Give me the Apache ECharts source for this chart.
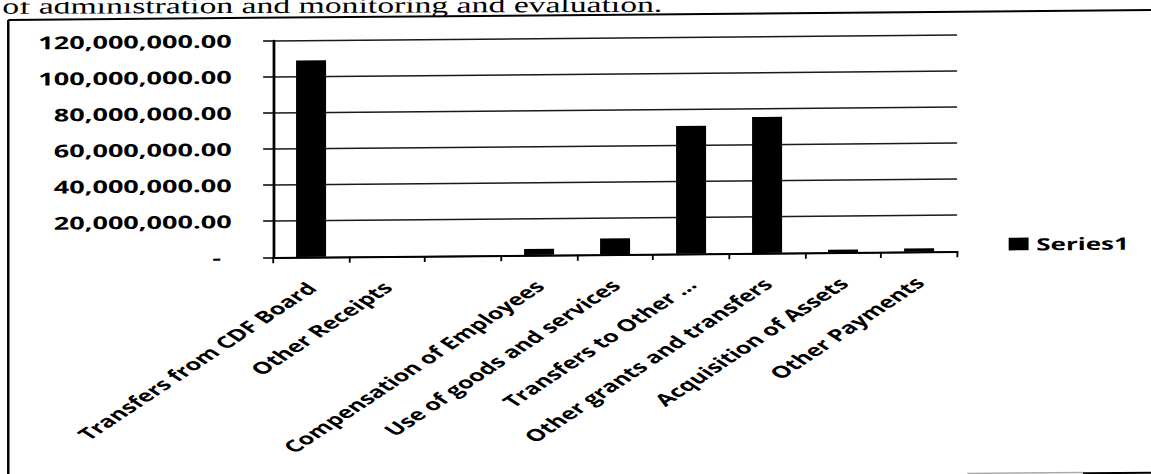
<!DOCTYPE html>
<html>
<head>
<meta charset="utf-8">
<title>CDF receipts and payments</title>
<script src="https://cdn.jsdelivr.net/npm/echarts@6/dist/echarts.min.js"></script>
<style>
  html, body { margin: 0; padding: 0; background: #fff; overflow: hidden; width: 1151px; height: 474px; }
  /* the page is a wide scan: stretched horizontally and slightly sheared */
  #chart {
    position: absolute; left: 0; top: 0;
    width: 752px; height: 490px;
    transform-origin: 0 0;
    transform: translate(273px, 257px) skewY(-0.5deg) translate(-273px, -257px) scaleX(1.5306);
  }
</style>
</head>
<body>
<div id="chart"></div>
<script>
// Receipt and payment lines (one category has no name in the source table)
const categories = [
  'Transfers from CDF Board',
  'Other Receipts',
  '',
  'Compensation of Employees',
  'Use of goods and services',
  'Transfers to Other ...',
  'Other grants and transfers',
  'Acquisition of Assets',
  'Other Payments'
];

// Amounts for Series1
const values = [108900000, 0, 0, 3350000, 8800000, 70800000, 75400000, 1500000, 1800000];

const seriesName = 'Series1';

// Value axis ticks, accounting style
const yStep = 20000000;
const yTickLabels = [
  '-',
  '20,000,000.00',
  '40,000,000.00',
  '60,000,000.00',
  '80,000,000.00',
  '100,000,000.00',
  '120,000,000.00'
];

const captionText = 'of administration and monitoring and evaluation.';

const FONT = '"Open Sans", "DejaVu Sans", sans-serif';

const chart = echarts.init(document.getElementById('chart'), null, { renderer: 'svg' });

chart.setOption({
  animation: false,
  backgroundColor: '#fff',
  grid: {
    left: 178.4,
    right: 126.7,
    top: 40.7,
    bottom: 232.7,
    containLabel: false
  },
  legend: {
    data: [seriesName],
    left: 654,
    top: 237,
    icon: 'rect',
    itemWidth: 13,
    itemHeight: 12.6,
    itemGap: 5,
    textStyle: { fontFamily: FONT, fontWeight: 'bold', fontSize: 17, color: '#000' }
  },
  xAxis: {
    type: 'category',
    data: categories,
    axisLine: { show: true, lineStyle: { color: '#000', width: 2 } },
    axisTick: { show: true, length: 6, lineStyle: { color: '#000', width: 1.2 } },
    axisLabel: {
      interval: 0,
      rotate: 45,
      margin: 28,
      fontFamily: FONT,
      fontWeight: 'bold',
      fontSize: 16.5,
      color: '#000'
    },
    splitLine: { show: false }
  },
  yAxis: {
    type: 'value',
    min: 0,
    max: yStep * (yTickLabels.length - 1),
    interval: yStep,
    axisLine: { show: true, lineStyle: { color: '#000', width: 1.8 } },
    axisTick: { show: true, length: 6.5, lineStyle: { color: '#000', width: 1.5 } },
    axisLabel: {
      margin: 27,
      fontFamily: FONT,
      fontWeight: 'bold',
      fontSize: 17.7,
      color: '#000',
      formatter: function (v) {
        const t = yTickLabels[Math.round(v / yStep)];
        return v === 0 ? '{z|' + t + '}' : t;
      },
      rich: {
        z: { fontFamily: FONT, fontWeight: 'bold', fontSize: 17.7, color: '#000', padding: [0, 7, 0, 0] }
      }
    },
    splitLine: { show: true, lineStyle: { color: '#1a1a1a', width: 1.5 } }
  },
  series: [{
    name: seriesName,
    type: 'bar',
    data: values,
    barWidth: 19.6,
    itemStyle: { color: '#000' }
  }],
  graphic: [
    {
      type: 'text',
      silent: true,
      x: 1.5,
      y: 4,
      rotation: -0.0093,
      style: {
        text: captionText,
        font: '22px "Liberation Serif", "Times New Roman", serif',
        fill: '#000',
        align: 'left',
        verticalAlign: 'middle'
      }
    },
    // frame around the chart
    {
      type: 'line', silent: true,
      shape: { x1: 5.4, y1: 17.7, x2: 760, y2: 17.7 },
      style: { stroke: '#000', lineWidth: 2 }
    },
    {
      type: 'line', silent: true,
      shape: { x1: 5.4, y1: 17.7, x2: 5.4, y2: 490 },
      style: { stroke: '#000', lineWidth: 1.6 }
    },
    {
      type: 'line', silent: true,
      shape: { x1: 632, y1: 479.5, x2: 707.6, y2: 479.5 },
      style: { stroke: '#aaa', lineWidth: 1.5 }
    },
    {
      type: 'line', silent: true,
      shape: { x1: 707.6, y1: 480.3, x2: 760, y2: 480.3 },
      style: { stroke: '#000', lineWidth: 2 }
    }
  ]
});
</script>
</body>
</html>
